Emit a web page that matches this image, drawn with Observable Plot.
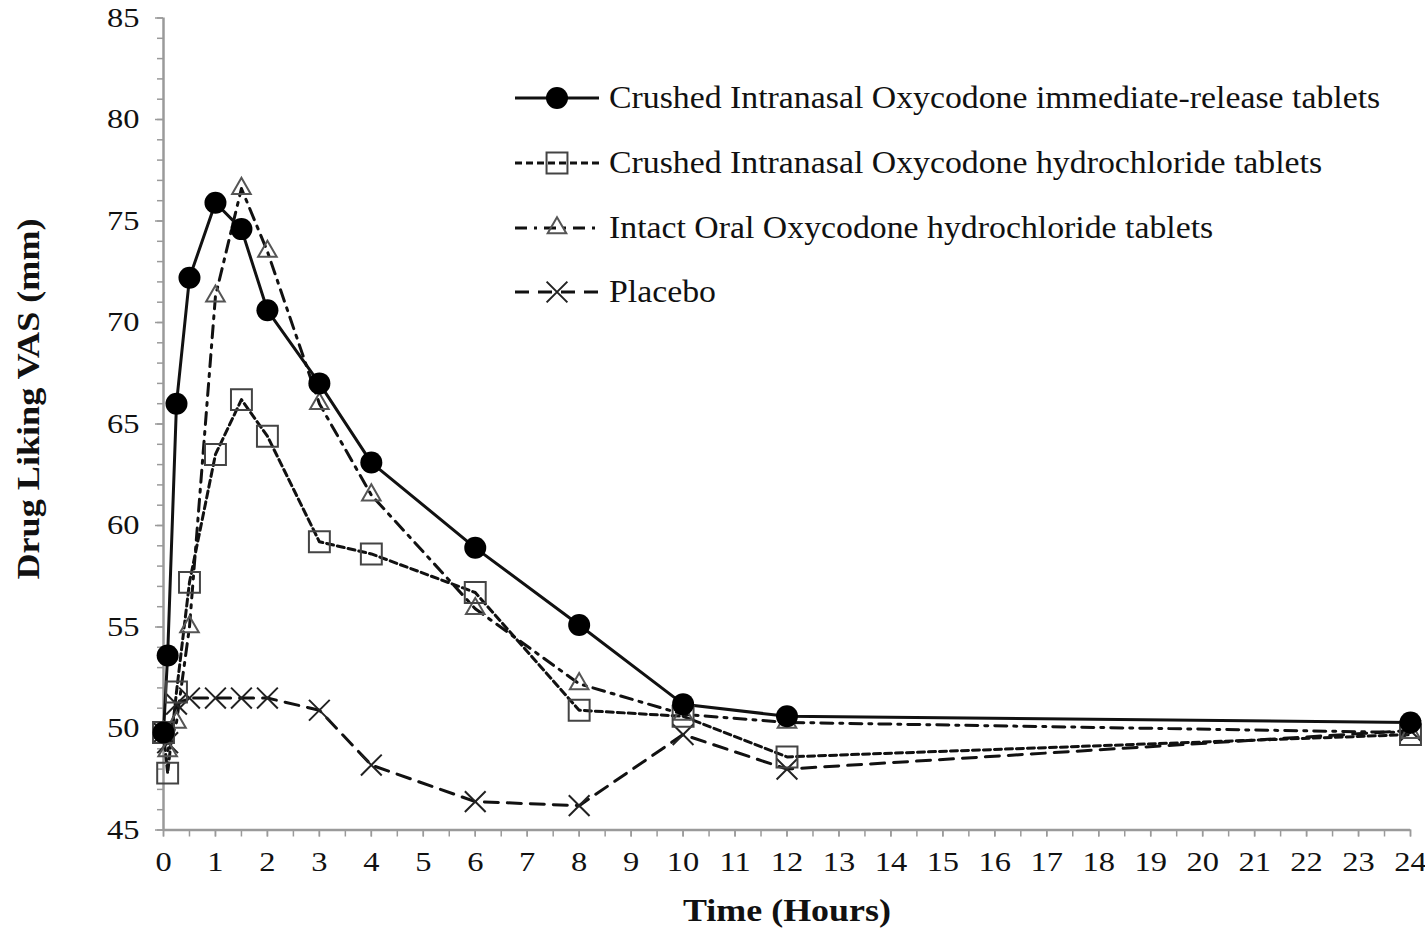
<!DOCTYPE html>
<html>
<head>
<meta charset="utf-8">
<script src="https://cdn.jsdelivr.net/npm/d3@7"></script>
<script src="https://cdn.jsdelivr.net/npm/@observablehq/plot@0.6"></script>
<style>
  body { margin: 0; background: white; }
  #wrap { position: relative; width: 1425px; height: 928px; font-family: "Liberation Serif", "Times New Roman", serif; }
  #legend { position: absolute; left: 515px; top: 66px; }
  .row { display: flex; align-items: center; height: 64.7px; }
  .row svg { flex: none; }
  .row span { margin-left: 10px; font-size: 31px; color: #111; white-space: nowrap; display: inline-block; transform: scaleX(1.09); transform-origin: left center; }
</style>
</head>
<body>
<div id="wrap"><div id="legend"></div></div>
<script>
// ---- data ----
const times = [0, 0.08, 0.25, 0.5, 1, 1.5, 2, 3, 4, 6, 8, 10, 12, 24];
const seriesNames = [
  "Crushed Intranasal Oxycodone immediate-release tablets",
  "Crushed Intranasal Oxycodone hydrochloride tablets",
  "Intact Oral Oxycodone hydrochloride tablets",
  "Placebo"
];
const crushedIR   = [49.8, 53.6, 66.0, 72.2, 75.9, 74.6, 70.6, 67.0, 63.1, 58.9, 55.1, 51.2, 50.6, 50.3];
const crushedHCl  = [49.8, 47.8, 51.8, 57.2, 63.5, 66.2, 64.4, 59.2, 58.6, 56.7, 50.9, 50.6, 48.6, 49.7];
const intactOral  = [49.8, 48.9, 50.3, 55.0, 71.3, 76.6, 73.5, 66.0, 61.5, 55.9, 52.2, 50.7, 50.3, 49.8];
const placebo     = [49.8, 49.3, 51.2, 51.5, 51.5, 51.5, 51.5, 50.9, 48.2, 46.4, 46.2, 49.7, 48.0, 49.9];
const xTicks = [0,1,2,3,4,5,6,7,8,9,10,11,12,13,14,15,16,17,18,19,20,21,22,23,24];
const yTicks = [45, 50, 55, 60, 65, 70, 75, 80, 85];
const xTitle = "Time (Hours)";
const yTitle = "Drug Liking VAS (mm)";

const valuesBySeries = [crushedIR, crushedHCl, intactOral, placebo];
const styles = [
  {symbol: "circle",   r: 11,   fill: "#000", stroke: "none", dash: null},
  {symbol: "square",   r: 11.8, fill: "none", stroke: "#444", dash: "7,4"},
  {symbol: "triangle", r: 6.9,  fill: "none", stroke: "#555", dash: "12,7,3,7"},
  {symbol: "times",    r: 9.5,  fill: "none", stroke: "#222", dash: "14,9"}
];

const rows = seriesNames.map((name, s) => times.map((t, i) => ({series: name, time: t, value: valuesBySeries[s][i]})));

const gray = "#9a9a9a";
const marks = [
  Plot.axisY(d3.range(45, 86, 1), {tickSize: 6, stroke: gray, strokeWidth: 1.5, tickFormat: () => "", label: null}),
  Plot.axisY(yTicks, {tickSize: 8, stroke: gray, strokeWidth: 1.5, tickPadding: 16, fill: "#111", label: null, fontSize: 28}),
  Plot.axisX(d3.range(0, 24.01, 0.5), {tickSize: 7, stroke: gray, strokeWidth: 1.5, tickFormat: () => "", label: null}),
  Plot.axisX(xTicks, {tickSize: 7, stroke: gray, strokeWidth: 1.5, tickPadding: 14, fill: "#111", label: null, fontSize: 28}),
  Plot.ruleY([45], {stroke: gray, strokeWidth: 2.5}),
  Plot.ruleX([0], {stroke: gray, strokeWidth: 2.5}),
  Plot.text([yTitle], {frameAnchor: "left", dx: -135, dy: -25, rotate: -90, textAnchor: "middle", fontSize: 32, fontWeight: "bold", fill: "#111"}),
  Plot.text([xTitle], {frameAnchor: "bottom", dy: 91, fontSize: 31, fontWeight: "bold", fill: "#111"})
];
for (let s = 3; s >= 0; s--) {
  const st = styles[s];
  marks.push(Plot.line(rows[s], {x: "time", y: "value", stroke: "#111", strokeWidth: 3, strokeDasharray: st.dash}));
}
for (let s = 3; s >= 0; s--) {
  const st = styles[s];
  marks.push(Plot.dot(rows[s], {x: "time", y: "value", symbol: () => st.symbol, r: st.r, fill: st.fill, stroke: st.stroke === "none" ? null : st.stroke, strokeWidth: 2}));
}

const chart = Plot.plot({
  width: 1425,
  height: 928,
  marginLeft: 163,
  marginRight: 15,
  marginTop: 17.5,
  marginBottom: 98.5,
  x: {domain: [0, 24], axis: null},
  y: {domain: [45, 85], axis: null},
  symbol: {type: "identity"},
  style: {fontFamily: "'Liberation Serif', 'Times New Roman', serif", fontSize: "28px", background: "white", color: "#111", overflow: "visible"},
  marks
});
document.getElementById("wrap").prepend(chart);

// The reference's lettering is a little wider than Times: stretch each text around its own anchor.
const NS = "http://www.w3.org/2000/svg";
Array.from(chart.querySelectorAll("text")).forEach(t => {
  try {
    const r = t.getBoundingClientRect();
    if (!r.width) return;
    const isYTitle = t.textContent === yTitle;
    const anchor = getComputedStyle(t).textAnchor;
    let ax, ay;
    if (isYTitle) { ax = (r.left + r.right) / 2; ay = (r.top + r.bottom) / 2; }
    else {
      ax = anchor === "end" ? r.right : anchor === "middle" ? (r.left + r.right) / 2 : r.left;
      ay = (r.top + r.bottom) / 2;
    }
    const m = t.parentNode.getScreenCTM().inverse();
    const p = new DOMPoint(ax, ay).matrixTransform(m);
    const g = document.createElementNS(NS, "g");
    t.parentNode.insertBefore(g, t);
    g.appendChild(t);
    const sc = isYTitle ? "scale(1.0,1.13)" : "scale(1.16,1)";
    g.setAttribute("transform", `translate(${p.x},${p.y}) ${sc} translate(${-p.x},${-p.y})`);
  } catch (e) {}
});

// ---- legend (inside the plot area, as in the reference) ----
const symbolTypes = {circle: d3.symbolCircle, square: d3.symbolSquare, triangle: d3.symbolTriangle, times: d3.symbolTimes};
const legend = document.getElementById("legend");
seriesNames.forEach((name, s) => {
  const st = styles[s];
  const sym = d3.symbol(symbolTypes[st.symbol], Math.PI * st.r * st.r)();
  const row = document.createElement("div");
  row.className = "row";
  row.innerHTML =
    `<svg width="84" height="30" viewBox="0 0 84 30">
       <line x1="0" y1="15" x2="84" y2="15" stroke="#111" stroke-width="3" ${st.dash ? `stroke-dasharray="${st.dash}"` : ""}/>
       <path d="${sym}" transform="translate(42,15)" fill="${st.fill}" stroke="${st.stroke}" stroke-width="2"/>
     </svg><span>${name}</span>`;
  legend.appendChild(row);
});
</script>
</body>
</html>
